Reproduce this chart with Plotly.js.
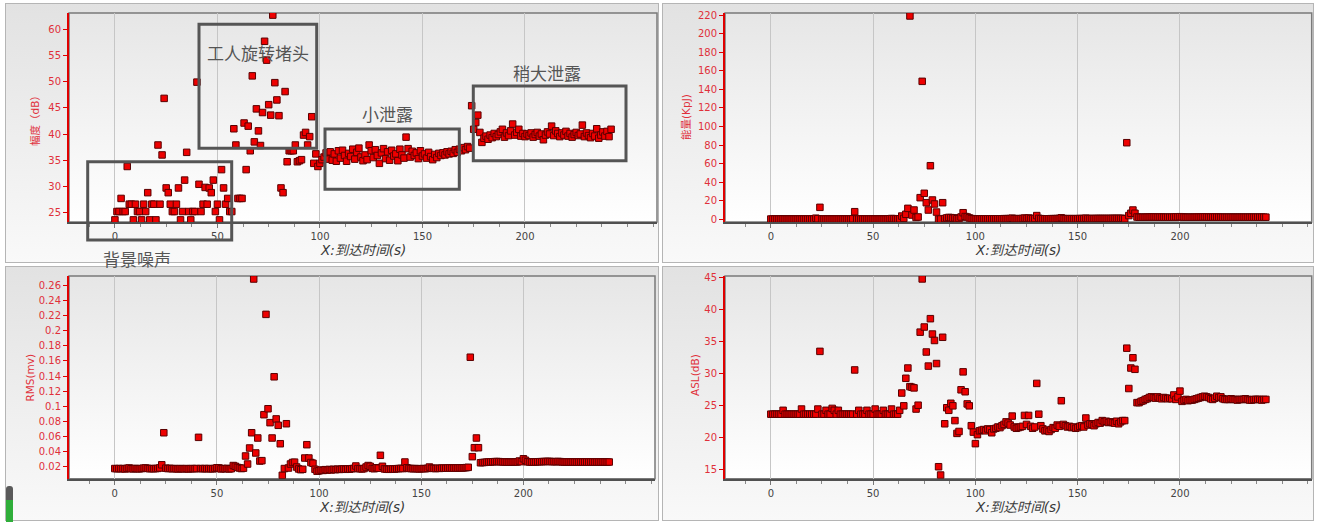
<!DOCTYPE html>
<html>
<head>
<meta charset="utf-8">
<script src="https://cdn.plot.ly/plotly-3.0.1.min.js"></script>
<style>
  html, body { margin: 0; padding: 0; background: #ffffff; }
  #wrap { position: relative; width: 1317px; height: 522px; overflow: hidden; }
  .panel { position: absolute; box-sizing: border-box; border: 1px solid #b5b5b5;
           background: linear-gradient(to bottom, #e2e2e2 0%, #f9f9f9 100%); }
  .plotbg { position: absolute; background: linear-gradient(to bottom, #e6e6e6 0%, #ffffff 100%); }
  #scroll { position: absolute; left: 6px; top: 486px; width: 7px; height: 36px; border-radius: 3px 3px 0 0;
            background: linear-gradient(to bottom, #5a5a5a 0%, #5a5a5a 40%, #2fae3a 40%, #2fae3a 100%); }
  #chart { position: absolute; left: 0; top: 0; width: 1317px; height: 522px; }
</style>
</head>
<body>
<div id="wrap">
  <div class="panel" style="left:5px;top:3px;width:654px;height:260px;"></div>
  <div class="panel" style="left:662px;top:3px;width:652px;height:260px;"></div>
  <div class="panel" style="left:5px;top:266px;width:654px;height:255px;"></div>
  <div class="panel" style="left:662px;top:266px;width:652px;height:255px;"></div>
  <div class="plotbg" style="left:69px;top:13px;width:588px;height:209px;"></div>
  <div class="plotbg" style="left:725px;top:13px;width:587px;height:209px;"></div>
  <div class="plotbg" style="left:69px;top:276px;width:586px;height:203px;"></div>
  <div class="plotbg" style="left:725px;top:276px;width:587px;height:203px;"></div>
  <div id="scroll"></div>
  <div id="chart"></div>
</div>
<script>
// ---------------- data ----------------
const timeS = [
  0,1,2,3,4,5,6,7,8,9,
  10,11,12,13,14,15,16,17,18,19,
  20,21,22,23,24,25,26,27,28,29,
  30,31,32,33,34,35,36,37,38,39,
  40,41,42,43,44,45,46,47,48,49,
  50,51,52,53,54,55,56,57,58,59,
  60,61,62,63,64,65,66,67,68,69,
  70,71,72,73,74,75,76,77,78,79,
  80,81,82,83,84,85,86,87,88,89,
  90,91,92,93,94,95,96,97,98,99,
  100,101,102,103,104,105,106,107,108,109,
  110,111,112,113,114,115,116,117,118,119,
  120,121,122,123,124,125,126,127,128,129,
  130,131,132,133,134,135,136,137,138,139,
  140,141,142,143,144,145,146,147,148,149,
  150,151,152,153,154,155,156,157,158,159,
  160,161,162,163,164,165,166,167,168,169,
  170,171,172,173,174,175,176,177,178,179,
  180,181,182,183,184,185,186,187,188,189,
  190,191,192,193,194,195,196,197,198,199,
  200,201,202,203,204,205,206,207,208,209,
  210,211,212,213,214,215,216,217,218,219,
  220,221,222,223,224,225,226,227,228,229,
  230,231,232,233,234,235,236,237,238,239,
  240,241,242
];

// 幅度 (dB)
const amplitude = [
  23.6,25.2,25.2,27.7,25.2,25.2,33.8,26.6,26.6,23.6,
  26.6,25.2,25.2,23.6,26.6,25.2,28.8,23.6,26.6,26.6,
  23.6,37.9,26.6,36.0,46.8,29.7,28.8,26.6,25.2,25.2,
  26.6,29.7,23.6,25.2,31.2,36.5,25.2,23.6,25.2,25.2,
  49.9,30.4,25.2,26.6,29.8,26.6,29.7,28.8,31.2,25.2,
  26.6,23.6,33.2,29.7,26.6,27.7,25.2,25.2,41.0,37.9,
  27.7,27.7,27.7,42.1,33.2,41.5,36.8,51.1,38.5,44.8,
  40.6,37.8,44.1,57.7,54.1,45.6,43.6,62.7,49.8,46.5,
  43.5,29.7,28.8,48.1,34.7,36.8,36.8,36.8,37.9,34.7,
  34.9,35.1,39.8,40.3,37.9,39.5,43.3,34.4,36.2,33.8,
  34.4,35.1,35.6,36.4,35.2,36.6,35.0,36.2,34.8,36.8,
  35.4,36.9,35.9,34.8,36.3,35.7,37.1,35.2,36.5,37.3,
  35.6,34.9,36.0,35.1,37.9,36.8,35.5,37.0,35.9,34.4,
  36.4,37.2,35.3,36.6,35.0,36.9,35.8,36.2,34.9,37.1,
  36.0,35.4,39.4,37.2,35.6,36.7,35.9,36.4,35.3,36.8,
  35.8,36.2,35.4,36.5,35.7,35.1,36.1,35.5,36.3,35.9,
  36.4,36.0,36.6,36.2,36.7,36.3,37.0,36.5,37.1,36.8,
  37.4,37.0,37.6,37.3,45.4,40.9,42.2,43.6,40.3,38.4,
  39.2,39.6,39.0,39.8,39.3,40.1,39.5,39.9,40.4,40.9,
  39.4,40.2,39.7,40.6,41.9,39.8,40.3,40.9,39.6,40.1,
  39.5,40.0,39.7,40.2,39.4,39.9,40.3,39.6,40.0,38.9,
  39.8,40.4,40.0,41.5,39.7,40.6,40.1,39.5,40.2,39.8,
  40.5,39.6,40.1,39.4,39.9,40.3,39.7,40.0,41.7,39.5,
  40.2,39.7,39.3,40.1,39.6,41.0,39.2,39.8,40.4,39.6,
  40.5,39.5,40.9
];

// 能量 (KpJ)
const energy = [
  0.3,0.3,0.3,0.3,0.3,0.3,0.4,0.3,0.3,0.3,
  0.3,0.3,0.3,0.3,0.3,0.3,0.3,0.3,0.3,0.3,
  0.3,0.3,1.2,0.6,12.9,0.4,0.3,0.3,0.3,0.3,
  0.3,0.3,0.3,0.3,0.3,0.3,0.3,0.3,0.3,0.3,
  0.5,8.2,0.3,0.3,0.3,0.3,0.3,0.3,0.3,0.3,
  0.3,0.3,0.3,0.3,0.3,0.3,0.3,0.3,0.6,0.8,
  0.7,0.5,0.4,0.6,3.5,1.0,5.4,11.8,219.0,4.6,
  10.0,2.0,2.5,23.3,148.6,28.0,17.9,10.0,57.7,20.8,
  16.5,7.8,0.2,0.3,17.9,0.8,1.5,2.0,1.8,1.2,
  1.5,0.6,0.9,2.5,7.1,3.0,2.5,1.5,0.8,0.5,
  0.4,0.4,0.4,0.5,0.5,0.5,0.5,0.5,0.5,0.5,
  0.6,0.6,0.6,0.6,0.7,0.7,0.7,0.8,1.2,0.7,
  0.7,0.7,0.7,0.9,1.3,1.0,1.4,0.8,0.7,0.9,
  4.0,1.0,0.7,0.6,0.6,0.6,0.6,0.7,0.7,0.7,
  0.8,0.9,1.6,0.8,0.7,0.7,0.7,0.7,0.7,0.7,
  0.7,0.8,0.8,0.8,1.2,0.8,0.8,0.8,0.8,0.9,
  0.9,0.9,0.9,0.9,0.9,0.9,0.9,1.0,1.0,1.0,
  1.0,1.0,1.0,0.6,82.5,4.0,6.5,10.0,6.5,2.5,
  2.2,2.2,2.3,2.3,2.4,2.4,2.5,2.5,2.5,2.4,
  2.4,2.4,2.3,2.3,2.3,2.3,2.3,2.4,2.6,2.5,
  2.8,2.6,2.4,2.3,2.3,2.3,2.3,2.3,2.4,2.4,
  2.4,2.5,2.6,2.5,2.4,2.4,2.4,2.5,2.4,2.4,
  2.3,2.3,2.3,2.3,2.3,2.3,2.3,2.3,2.3,2.3,
  2.3,2.3,2.3,2.3,2.3,2.3,2.3,2.3,2.3,2.3,
  2.3,2.3,2.3
];

// RMS (mv)
const rms = [
  0.0170,0.0168,0.0170,0.0168,0.0170,0.0165,0.0172,0.0178,0.0168,0.0166,
  0.0172,0.0168,0.0166,0.0170,0.0175,0.0178,0.0172,0.0168,0.0170,0.0168,
  0.0170,0.0172,0.0178,0.0220,0.0646,0.0175,0.0170,0.0172,0.0168,0.0170,
  0.0168,0.0165,0.0170,0.0168,0.0166,0.0170,0.0165,0.0168,0.0170,0.0168,
  0.0170,0.0585,0.0170,0.0168,0.0170,0.0168,0.0170,0.0168,0.0166,0.0172,
  0.0180,0.0178,0.0165,0.0170,0.0168,0.0172,0.0165,0.0168,0.0210,0.0200,
  0.0185,0.0178,0.0170,0.0175,0.0337,0.0230,0.0443,0.0646,0.2690,0.0377,
  0.0576,0.0270,0.0275,0.0886,0.2220,0.0965,0.0780,0.0576,0.1390,0.0830,
  0.0745,0.0500,0.0080,0.0170,0.0766,0.0177,0.0230,0.0250,0.0255,0.0190,
  0.0165,0.0155,0.0160,0.0310,0.0487,0.0310,0.0250,0.0240,0.0160,0.0135,
  0.0140,0.0150,0.0145,0.0155,0.0150,0.0158,0.0152,0.0160,0.0155,0.0162,
  0.0158,0.0162,0.0165,0.0160,0.0166,0.0162,0.0168,0.0172,0.0204,0.0170,
  0.0168,0.0165,0.0170,0.0190,0.0210,0.0200,0.0172,0.0168,0.0180,0.0175,
  0.0346,0.0200,0.0165,0.0162,0.0160,0.0162,0.0165,0.0163,0.0168,0.0170,
  0.0172,0.0170,0.0257,0.0180,0.0172,0.0170,0.0168,0.0170,0.0168,0.0165,
  0.0168,0.0170,0.0168,0.0172,0.0190,0.0175,0.0172,0.0170,0.0174,0.0172,
  0.0175,0.0176,0.0174,0.0176,0.0178,0.0177,0.0176,0.0178,0.0177,0.0179,
  0.0178,0.0180,0.0182,0.0186,0.1650,0.0328,0.0447,0.0576,0.0447,0.0247,
  0.0250,0.0252,0.0255,0.0257,0.0258,0.0260,0.0262,0.0263,0.0262,0.0260,
  0.0258,0.0257,0.0256,0.0255,0.0255,0.0256,0.0257,0.0258,0.0270,0.0262,
  0.0300,0.0280,0.0260,0.0257,0.0256,0.0257,0.0258,0.0260,0.0261,0.0262,
  0.0263,0.0264,0.0265,0.0264,0.0262,0.0262,0.0261,0.0264,0.0262,0.0258,
  0.0257,0.0257,0.0257,0.0256,0.0257,0.0257,0.0256,0.0257,0.0257,0.0256,
  0.0257,0.0257,0.0256,0.0257,0.0257,0.0256,0.0257,0.0257,0.0256,0.0257,
  0.0257,0.0256,0.0257
];

// ASL (dB)
const asl = [
  23.6,23.6,23.6,23.6,23.6,23.6,24.2,23.6,23.6,23.6,
  23.6,23.6,23.6,23.6,23.6,24.4,23.6,23.6,23.6,23.6,
  23.6,23.6,23.6,24.4,33.4,23.6,23.6,24.2,23.6,23.6,
  24.5,24.2,23.6,24.2,23.6,23.6,23.6,23.6,23.6,23.6,
  23.6,30.5,23.6,24.2,23.6,23.6,23.6,24.2,23.6,23.6,
  23.6,24.4,23.6,23.6,23.6,24.2,23.6,23.6,23.6,24.4,
  23.6,23.6,23.6,24.2,26.9,24.9,29.2,30.8,27.9,27.8,
  27.7,24.4,25.0,36.4,44.7,37.2,33.3,31.1,38.5,36.1,
  35.1,31.5,15.4,14.1,35.6,22.1,24.6,24.2,25.3,24.9,
  22.6,20.6,20.9,27.4,30.2,27.1,25.2,24.9,21.8,20.8,
  19.0,20.4,21.0,21.1,21.2,21.0,21.3,21.2,20.7,21.3,
  21.4,21.6,21.5,21.8,22.0,22.4,22.2,21.9,23.3,21.6,
  21.4,21.5,21.6,21.7,23.4,22.0,23.4,21.7,21.4,21.6,
  28.4,23.6,21.8,21.3,21.0,21.1,20.9,21.2,21.5,21.4,
  21.9,21.7,25.7,22.0,21.8,21.6,21.7,21.5,21.6,21.4,
  21.5,21.7,21.8,21.6,23.0,21.9,22.1,22.0,21.8,22.1,
  22.3,22.2,22.6,22.4,22.5,22.3,22.4,22.3,22.2,22.5,
  22.1,22.4,22.6,22.6,33.9,27.6,30.8,32.4,30.6,25.4,
  25.4,25.6,25.7,25.9,26.0,26.2,26.3,26.2,26.1,26.3,
  26.1,26.0,26.2,26.1,26.0,26.1,26.0,26.6,25.9,26.3,
  27.2,25.6,25.8,25.9,25.7,25.8,25.8,25.9,26.0,26.1,
  26.2,26.3,26.4,26.3,26.2,26.0,25.9,26.1,26.4,26.2,
  26.3,26.0,25.9,25.9,25.9,26.0,25.9,25.9,25.8,25.9,
  25.9,25.9,26.0,25.9,25.8,25.8,25.9,25.9,25.9,25.9,
  25.8,25.9,25.9
];

// tick labels
const xTicks = [0, 50, 100, 150, 200];
const ampTicks = [25, 30, 35, 40, 45, 50, 55, 60];
const energyTicks = [0, 20, 40, 60, 80, 100, 120, 140, 160, 180, 200, 220];
const rmsTicks = [0.02, 0.04, 0.06, 0.08, 0.1, 0.12, 0.14, 0.16, 0.18, 0.2, 0.22, 0.24, 0.26];
const rmsTickText = ['0.02','0.04','0.06','0.08','0.1','0.12','0.14','0.16','0.18','0.2','0.22','0.24','0.26'];
const aslTicks = [15, 20, 25, 30, 35, 40, 45];

const yTitles = ['幅度（dB）', '能量(KpJ)', 'RMS(mv)', 'ASL(dB)'];
const xTitle = 'X:到达时间(s)';
const regionLabels = ['背景噪声', '工人旋转堵头', '小泄露', '稍大泄露'];

// ---------------- layout helpers ----------------
const W = 1317, H = 522;
const px = v => v / W;
const py = v => 1 - v / H;

const FONT = 'DejaVu Sans, Noto Sans CJK SC, sans-serif';
const RED = '#e00000';

function xAxis(d0, d1, anchor) {
  return {
    domain: [px(d0), px(d1)], anchor: anchor,
    range: [-22.4, 264.4], tickvals: xTicks, ticktext: xTicks.map(String),
    showgrid: true, gridcolor: '#c6c6c6', gridwidth: 1, zeroline: false,
    showline: true, linecolor: '#505050', linewidth: 2,
    ticks: 'outside', ticklen: 4, tickcolor: '#777', tickwidth: 1,
    minor: { dtick: 12.5, tick0: 0, ticks: 'outside', ticklen: 3, tickcolor: '#888', showgrid: false },
    tickfont: { family: FONT, size: 10, color: '#444' }
  };
}
function yAxis(d0, d1, anchor, range, tickvals, ticktext) {
  return {
    domain: [py(d1), py(d0)], anchor: anchor, range: range,
    tickvals: tickvals, ticktext: ticktext || tickvals.map(String),
    showgrid: false, zeroline: false,
    showline: true, linecolor: RED, linewidth: 2,
    ticks: 'outside', ticklen: 4, tickcolor: RED, tickwidth: 1,
    tickfont: { family: FONT, size: 10, color: '#e0303a' }
  };
}

const markerStyle = { symbol: 'square', size: 6.5, color: '#ee0000', line: { color: '#5a0000', width: 1 } };

const traces = [
  { x: timeS, y: amplitude, xaxis: 'x', yaxis: 'y', type: 'scatter', mode: 'markers', marker: markerStyle, name: yTitles[0] },
  { x: timeS, y: energy, xaxis: 'x2', yaxis: 'y2', type: 'scatter', mode: 'markers', marker: markerStyle, name: yTitles[1] },
  { x: timeS, y: rms, xaxis: 'x3', yaxis: 'y3', type: 'scatter', mode: 'markers', marker: markerStyle, name: yTitles[2] },
  { x: timeS, y: asl, xaxis: 'x4', yaxis: 'y4', type: 'scatter', mode: 'markers', marker: markerStyle, name: yTitles[3] }
];

function border(xr, yr) {
  return { type: 'rect', xref: xr + ' domain', yref: yr + ' domain', x0: 0, x1: 1, y0: 0, y1: 1,
           line: { color: '#7a7a7a', width: 1.5 }, layer: 'below' };
}
function box(x0, y0, x1, y1) {
  return { type: 'rect', xref: 'paper', yref: 'paper', x0: px(x0), x1: px(x1), y0: py(y1), y1: py(y0),
           line: { color: '#555555', width: 3 }, layer: 'above' };
}

function yTitle(text, cx, cy) {
  return { text: text, xref: 'paper', yref: 'paper', x: px(cx), y: py(cy), xanchor: 'center', yanchor: 'middle',
           showarrow: false, textangle: -90, font: { family: FONT, size: 10.5, color: '#e0303a' } };
}
function xTitleAnn(cx, cy) {
  return { text: '<i>' + xTitle + '</i>', xref: 'paper', yref: 'paper', x: px(cx), y: py(cy), xanchor: 'center', yanchor: 'middle',
           showarrow: false, font: { family: FONT, size: 13.5, color: '#3a3a3a' } };
}
function label(text, cx, cy) {
  return { text: text, xref: 'paper', yref: 'paper', x: px(cx), y: py(cy), xanchor: 'center', yanchor: 'middle',
           showarrow: false, font: { family: 'Noto Sans CJK SC, sans-serif', size: 17, color: '#555555' } };
}

const layout = {
  width: W, height: H,
  margin: { l: 0, r: 0, t: 0, b: 0, pad: 0 },
  paper_bgcolor: 'rgba(0,0,0,0)', plot_bgcolor: 'rgba(0,0,0,0)',
  showlegend: false,
  xaxis: xAxis(69, 657, 'y'),
  yaxis: yAxis(13, 222, 'x', [23.2, 63.1], ampTicks),
  xaxis2: xAxis(725, 1311.7, 'y2'),
  yaxis2: yAxis(13, 222, 'x2', [-2.9, 222.2], energyTicks),
  xaxis3: xAxis(69, 655, 'y3'),
  yaxis3: yAxis(276, 478.7, 'x3', [0.0035, 0.273], rmsTicks, rmsTickText),
  xaxis4: xAxis(725, 1311.7, 'y4'),
  yaxis4: yAxis(276, 478.7, 'x4', [13.53, 45.16], aslTicks),
  shapes: [
    border('x', 'y'), border('x2', 'y2'), border('x3', 'y3'), border('x4', 'y4'),
    box(87.7, 161.7, 231.7, 240),
    box(199, 24.3, 316.7, 148.3),
    box(325, 129, 459.3, 189.3),
    box(473.3, 86, 626, 160.7)
  ],
  annotations: [
    yTitle(yTitles[0], 35, 118),
    yTitle(yTitles[1], 686, 117),
    yTitle(yTitles[2], 29.5, 378),
    yTitle(yTitles[3], 695, 375),
    xTitleAnn(363, 250), xTitleAnn(1018, 250), xTitleAnn(362, 507), xTitleAnn(1018, 507),
    label(regionLabels[0], 137, 258),
    label(regionLabels[1], 258, 53),
    label(regionLabels[2], 387, 113.5),
    label(regionLabels[3], 547, 72.5)
  ]
};

Plotly.newPlot('chart', traces, layout, { staticPlot: true, displayModeBar: false });
</script>
</body>
</html>
